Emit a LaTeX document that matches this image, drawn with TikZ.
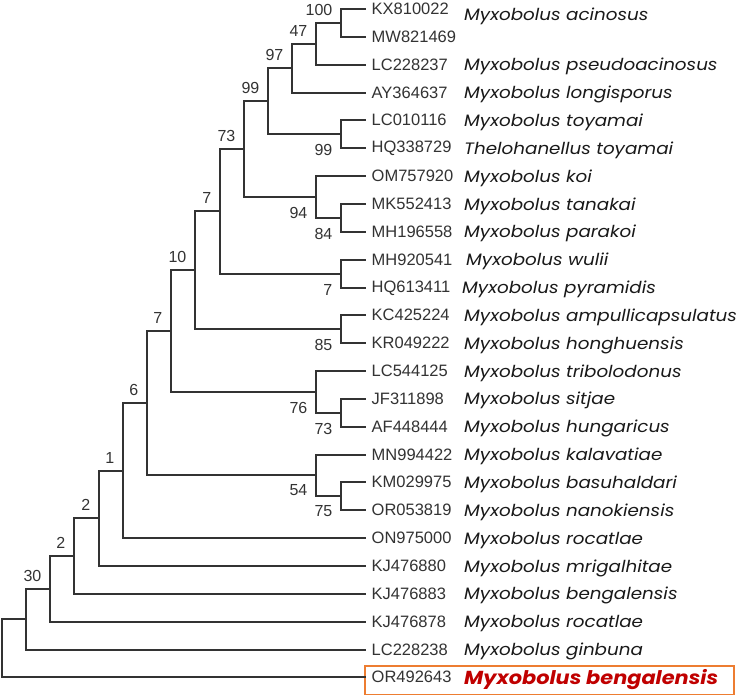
\documentclass[tikz,border=0pt]{standalone}
\usepackage{fontspec}
\setmainfont{Liberation Sans}
\newfontfamily\spfont{Poppins}[FakeStretch=1.11]
\definecolor{darkred}{RGB}{192,0,0}
\definecolor{boxorange}{RGB}{237,125,49}
\begin{document}
\begin{tikzpicture}[x=1pt,y=-1pt,
  br/.style={line width=1.5pt, draw=black!80, line cap=rect},
  acc/.style={anchor=west, inner sep=0pt, font=\fontsize{16.5}{18}\selectfont, text=black!80},
  sp/.style={anchor=base west, inner sep=0pt, font=\spfont\itshape\fontsize{16.5}{18}\selectfont, text=black!90},
  bsa/.style={anchor=east, inner sep=0pt, font=\fontsize{16}{18}\selectfont, text=black!80},
  hl/.style={draw=boxorange, line width=1.6pt, inner sep=0pt, minimum width=369pt, minimum height=28.6pt},
]
\useasboundingbox[fill=white] (0,0) rectangle (738,696);
% highlight box
\node[hl] (hbox) at (549.5,680) {};
% leaves
\coordinate (l0) at (365,9);
\coordinate (l1) at (365,37);
\coordinate (l2) at (365,65);
\coordinate (l3) at (365,93);
\coordinate (l4) at (365,120);
\coordinate (l5) at (365,148);
\coordinate (l6) at (365,176);
\coordinate (l7) at (365,204);
\coordinate (l8) at (365,232);
\coordinate (l9) at (365,260);
\coordinate (l10) at (365,288);
\coordinate (l11) at (365,315);
\coordinate (l12) at (365,343);
\coordinate (l13) at (365,371);
\coordinate (l14) at (365,399);
\coordinate (l15) at (365,427);
\coordinate (l16) at (365,455);
\coordinate (l17) at (365,482);
\coordinate (l18) at (365,510);
\coordinate (l19) at (365,538);
\coordinate (l20) at (365,566);
\coordinate (l21) at (365,594);
\coordinate (l22) at (365,622);
\coordinate (l23) at (365,650);
\coordinate (l24) at (365,677);
% internal nodes
\coordinate (n100) at (341,23);
\coordinate (n47) at (316,44);
\coordinate (n97) at (292,68);
\coordinate (n99b) at (341,134);
\coordinate (n99a) at (268,101);
\coordinate (n84) at (341,218);
\coordinate (n94) at (316,197);
\coordinate (n73a) at (244,149);
\coordinate (n7c) at (341,274);
\coordinate (n7a) at (220,211);
\coordinate (n85) at (341,329);
\coordinate (n10) at (195,270);
\coordinate (n73b) at (341,413);
\coordinate (n76) at (316,392);
\coordinate (n7b) at (171,331);
\coordinate (n75) at (341,496);
\coordinate (n54) at (316,475);
\coordinate (n6) at (147,403);
\coordinate (n1) at (123,471);
\coordinate (n2a) at (99,518);
\coordinate (n2b) at (74,556);
\coordinate (n30) at (50,589);
\coordinate (nr1) at (26,619);
\coordinate (nroot) at (2,648);
% branches
\draw[br] (n100) |- (l0); \draw[br] (n100) |- (l1);
\draw[br] (n47) |- (n100); \draw[br] (n47) |- (l2);
\draw[br] (n97) |- (n47); \draw[br] (n97) |- (l3);
\draw[br] (n99b) |- (l4); \draw[br] (n99b) |- (l5);
\draw[br] (n99a) |- (n97); \draw[br] (n99a) |- (n99b);
\draw[br] (n84) |- (l7); \draw[br] (n84) |- (l8);
\draw[br] (n94) |- (l6); \draw[br] (n94) |- (n84);
\draw[br] (n73a) |- (n99a); \draw[br] (n73a) |- (n94);
\draw[br] (n7c) |- (l9); \draw[br] (n7c) |- (l10);
\draw[br] (n7a) |- (n73a); \draw[br] (n7a) |- (n7c);
\draw[br] (n85) |- (l11); \draw[br] (n85) |- (l12);
\draw[br] (n10) |- (n7a); \draw[br] (n10) |- (n85);
\draw[br] (n73b) |- (l14); \draw[br] (n73b) |- (l15);
\draw[br] (n76) |- (l13); \draw[br] (n76) |- (n73b);
\draw[br] (n7b) |- (n10); \draw[br] (n7b) |- (n76);
\draw[br] (n75) |- (l17); \draw[br] (n75) |- (l18);
\draw[br] (n54) |- (l16); \draw[br] (n54) |- (n75);
\draw[br] (n6) |- (n7b); \draw[br] (n6) |- (n54);
\draw[br] (n1) |- (n6); \draw[br] (n1) |- (l19);
\draw[br] (n2a) |- (n1); \draw[br] (n2a) |- (l20);
\draw[br] (n2b) |- (n2a); \draw[br] (n2b) |- (l21);
\draw[br] (n30) |- (n2b); \draw[br] (n30) |- (l22);
\draw[br] (nr1) |- (n30); \draw[br] (nr1) |- (l23);
\draw[br] (nroot) |- (nr1); \draw[br] (nroot) |- (l24);
% bootstrap labels
\node[bsa] (b100) at ([shift={(-8.5,-13.5)}]n100) {100};
\node[bsa] (b47) at ([shift={(-8.5,-13.5)}]n47) {47};
\node[bsa] (b97) at ([shift={(-8.5,-13.5)}]n97) {97};
\node[bsa] (b99a) at ([shift={(-8.5,-13.5)}]n99a) {99};
\node[bsa] (b73a) at ([shift={(-8.5,-13.5)}]n73a) {73};
\node[bsa] (b7a) at ([shift={(-8.5,-13.5)}]n7a) {7};
\node[bsa] (b10) at ([shift={(-8.5,-13.5)}]n10) {10};
\node[bsa] (b7b) at ([shift={(-8.5,-13.5)}]n7b) {7};
\node[bsa] (b6) at ([shift={(-8.5,-13.5)}]n6) {6};
\node[bsa] (b1) at ([shift={(-8.5,-13.5)}]n1) {1};
\node[bsa] (b2a) at ([shift={(-8.5,-13.5)}]n2a) {2};
\node[bsa] (b2b) at ([shift={(-8.5,-13.5)}]n2b) {2};
\node[bsa] (b30) at ([shift={(-8.5,-13.5)}]n30) {30};
\node[bsa] (b99b) at ([shift={(-8.5,15.5)}]n99b) {99};
\node[bsa] (b94) at ([shift={(-8.5,15.5)}]n94) {94};
\node[bsa] (b84) at ([shift={(-8.5,15.5)}]n84) {84};
\node[bsa] (b7c) at ([shift={(-8.5,15.5)}]n7c) {7};
\node[bsa] (b85) at ([shift={(-8.5,15.5)}]n85) {85};
\node[bsa] (b76) at ([shift={(-8.5,15.5)}]n76) {76};
\node[bsa] (b73b) at ([shift={(-8.5,15.5)}]n73b) {73};
\node[bsa] (b54) at ([shift={(-8.5,15.5)}]n54) {54};
\node[bsa] (b75) at ([shift={(-8.5,15.5)}]n75) {75};
% accession labels
\node[acc] (a0) at ([xshift=6.5pt]l0) {KX810022};
\node[acc] (a1) at ([xshift=6.5pt]l1) {MW821469};
\node[acc] (a2) at ([xshift=6.5pt]l2) {LC228237};
\node[acc] (a3) at ([xshift=6.5pt]l3) {AY364637};
\node[acc] (a4) at ([xshift=6.5pt]l4) {LC010116};
\node[acc] (a5) at ([xshift=6.5pt]l5) {HQ338729};
\node[acc] (a6) at ([xshift=6.5pt]l6) {OM757920};
\node[acc] (a7) at ([xshift=6.5pt]l7) {MK552413};
\node[acc] (a8) at ([xshift=6.5pt]l8) {MH196558};
\node[acc] (a9) at ([xshift=6.5pt]l9) {MH920541};
\node[acc] (a10) at ([xshift=6.5pt]l10) {HQ613411};
\node[acc] (a11) at ([xshift=6.5pt]l11) {KC425224};
\node[acc] (a12) at ([xshift=6.5pt]l12) {KR049222};
\node[acc] (a13) at ([xshift=6.5pt]l13) {LC544125};
\node[acc] (a14) at ([xshift=6.5pt]l14) {JF311898};
\node[acc] (a15) at ([xshift=6.5pt]l15) {AF448444};
\node[acc] (a16) at ([xshift=6.5pt]l16) {MN994422};
\node[acc] (a17) at ([xshift=6.5pt]l17) {KM029975};
\node[acc] (a18) at ([xshift=6.5pt]l18) {OR053819};
\node[acc] (a19) at ([xshift=6.5pt]l19) {ON975000};
\node[acc] (a20) at ([xshift=6.5pt]l20) {KJ476880};
\node[acc] (a21) at ([xshift=6.5pt]l21) {KJ476883};
\node[acc] (a22) at ([xshift=6.5pt]l22) {KJ476878};
\node[acc] (a23) at ([xshift=6.5pt]l23) {LC228238};
\node[acc] (a24) at ([xshift=6.5pt]l24) {OR492643};
% species names
\node[sp] (s0) at (464,20.7) {Myxobolus acinosus};
\node[sp] (s2) at (464,70.7) {Myxobolus pseudoacinosus};
\node[sp] (s3) at (464,98.5) {Myxobolus longisporus};
\node[sp] (s4) at (464,126.4) {Myxobolus toyamai};
\node[sp] (s5) at (464,154.2) {Thelohanellus toyamai};
\node[sp] (s6) at (464,182.1) {Myxobolus koi};
\node[sp] (s7) at (464,210) {Myxobolus tanakai};
\node[sp] (s8) at (464,237.8) {Myxobolus parakoi};
\node[sp] (s9) at (466,265.6) {Myxobolus wulii};
\node[sp] (s10) at (462,293.5) {Myxobolus pyramidis};
\node[sp] (s11) at (464,321.3) {Myxobolus ampullicapsulatus};
\node[sp] (s12) at (464,349.2) {Myxobolus honghuensis};
\node[sp] (s13) at (464,377) {Myxobolus tribolodonus};
\node[sp] (s14) at (464,404.9) {Myxobolus sitjae};
\node[sp] (s15) at (464,432.7) {Myxobolus hungaricus};
\node[sp] (s16) at (464,460.6) {Myxobolus kalavatiae};
\node[sp] (s17) at (464,488.4) {Myxobolus basuhaldari};
\node[sp] (s18) at (464,516.3) {Myxobolus nanokiensis};
\node[sp] (s19) at (464,544.1) {Myxobolus rocatlae};
\node[sp] (s20) at (464,572) {Myxobolus mrigalhitae};
\node[sp] (s21) at (464,599.8) {Myxobolus bengalensis};
\node[sp] (s22) at (464,627.7) {Myxobolus rocatlae};
\node[sp] (s23) at (464,655.5) {Myxobolus ginbuna};
\node[sp, font=\spfont\bfseries\itshape\fontsize{18.8}{20}\selectfont, text=darkred] (s24) at (464,684.5) {Myxobolus bengalensis};
\end{tikzpicture}
\end{document}
